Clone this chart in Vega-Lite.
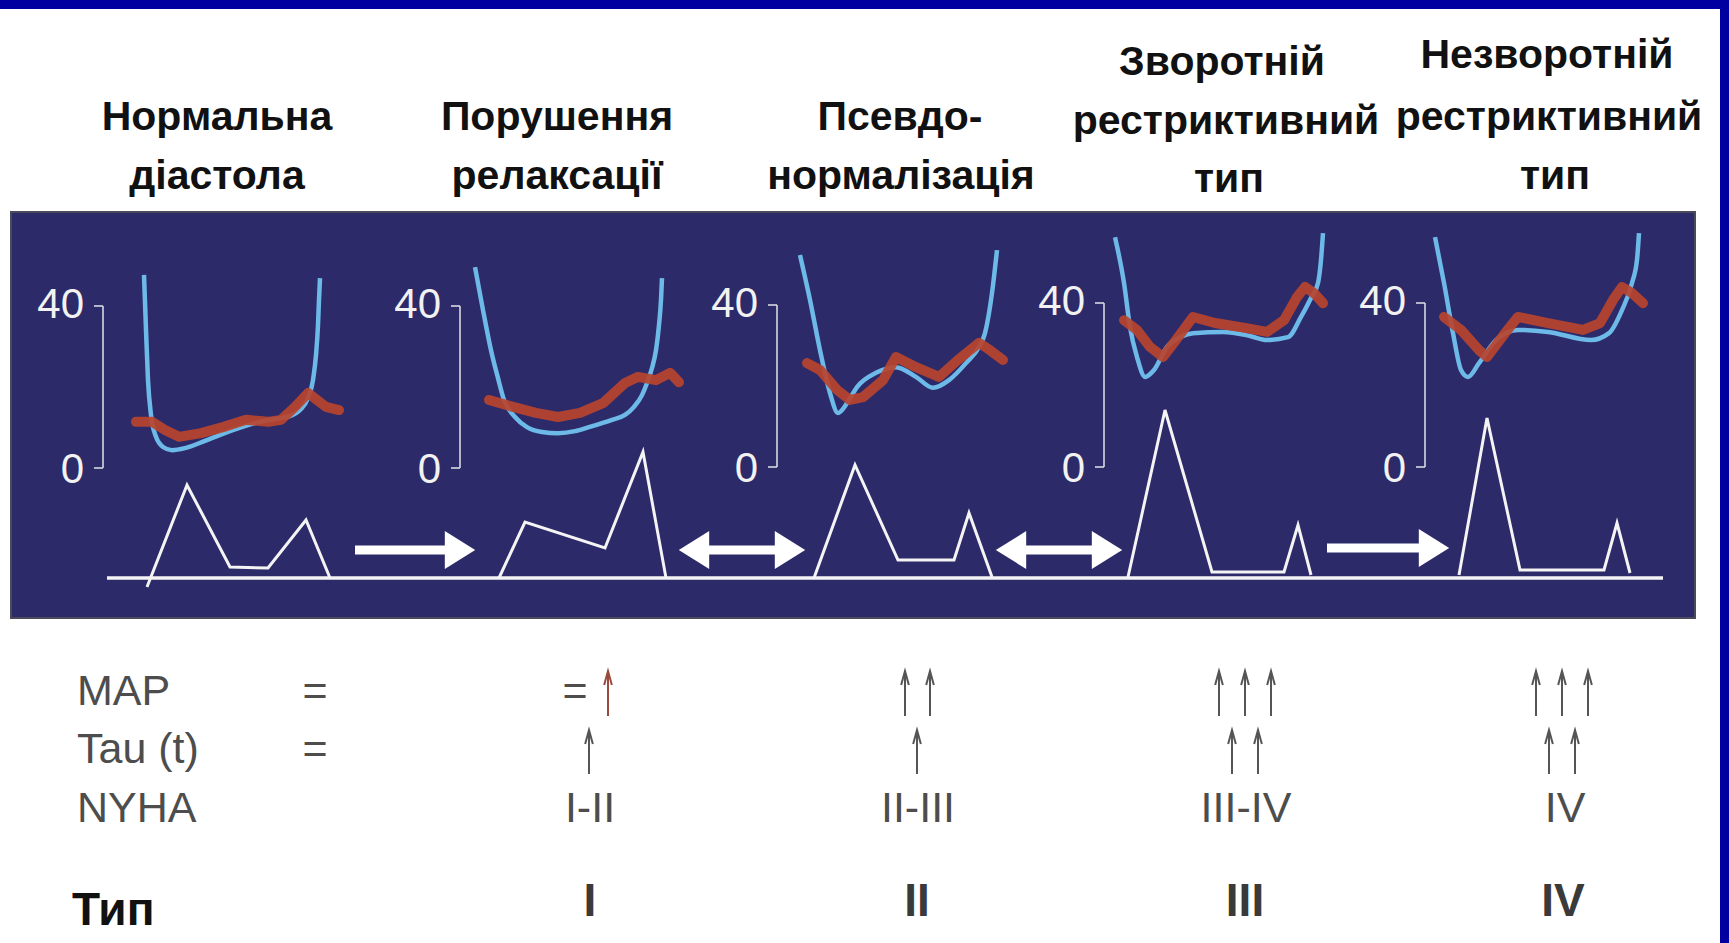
{
  "$schema": "https://vega.github.io/schema/vega-lite/v6.json",
  "width": 1729,
  "height": 943,
  "autosize": {"type": "fit", "contains": "padding"},
  "padding": 0,
  "background": "white",
  "config": {"view": {"stroke": null}},
  "resolve": {"scale": {"y": "independent"}},
  "layer": [
    {
      "data": {"values": [{"x1": 0, "x2": 1729, "y1": 0, "y2": 9}, {"x1": 1720, "x2": 1729, "y1": 0, "y2": 943}]},
      "mark": {"type": "rect", "color": "#0000a0"},
      "encoding": {
        "x": {"field": "x1", "type": "quantitative", "scale": {"domain": [0, 1729], "nice": false, "zero": false}, "axis": null},
        "x2": {"field": "x2"},
        "y": {"field": "y1", "type": "quantitative", "scale": {"domain": [0, 943], "reverse": true, "nice": false, "zero": false}, "axis": null},
        "y2": {"field": "y2"}
      }
    },
    {
      "data": {"values": [{"x1": 11, "x2": 1695, "y1": 212, "y2": 618}]},
      "mark": {"type": "rect", "color": "#2c2a69", "stroke": "#4a4a5a", "strokeWidth": 2},
      "encoding": {
        "x": {"field": "x1", "type": "quantitative", "scale": {"domain": [0, 1729], "nice": false, "zero": false}, "axis": null},
        "x2": {"field": "x2"},
        "y": {"field": "y1", "type": "quantitative", "scale": {"domain": [0, 943], "reverse": true, "nice": false, "zero": false}, "axis": null},
        "y2": {"field": "y2"}
      }
    },
    {
      "data": {"values": [{"x1": 107, "x2": 1663, "y": 578}]},
      "mark": {"type": "rule", "color": "#f4f4f4", "strokeWidth": 3.5},
      "encoding": {
        "x": {"field": "x1", "type": "quantitative", "scale": {"domain": [0, 1729], "nice": false, "zero": false}, "axis": null},
        "x2": {"field": "x2"},
        "y": {"field": "y", "type": "quantitative", "scale": {"domain": [0, 943], "reverse": true, "nice": false, "zero": false}, "axis": null}
      }
    },
    {
      "data": {"values": [
        {"stage": 1, "x": 147, "y": 587}, {"stage": 1, "x": 187, "y": 485}, {"stage": 1, "x": 230, "y": 567}, {"stage": 1, "x": 268, "y": 568}, {"stage": 1, "x": 306, "y": 520}, {"stage": 1, "x": 330, "y": 578},
        {"stage": 2, "x": 499, "y": 578}, {"stage": 2, "x": 525, "y": 522}, {"stage": 2, "x": 605, "y": 548}, {"stage": 2, "x": 643, "y": 452}, {"stage": 2, "x": 666, "y": 578},
        {"stage": 3, "x": 814, "y": 578}, {"stage": 3, "x": 855, "y": 465}, {"stage": 3, "x": 898, "y": 560}, {"stage": 3, "x": 954, "y": 560}, {"stage": 3, "x": 969, "y": 513}, {"stage": 3, "x": 992, "y": 577},
        {"stage": 4, "x": 1128, "y": 577}, {"stage": 4, "x": 1165, "y": 410}, {"stage": 4, "x": 1212, "y": 572}, {"stage": 4, "x": 1284, "y": 572}, {"stage": 4, "x": 1298, "y": 525}, {"stage": 4, "x": 1311, "y": 575},
        {"stage": 5, "x": 1459, "y": 575}, {"stage": 5, "x": 1487, "y": 418}, {"stage": 5, "x": 1520, "y": 570}, {"stage": 5, "x": 1604, "y": 570}, {"stage": 5, "x": 1617, "y": 523}, {"stage": 5, "x": 1630, "y": 573}
      ]},
      "mark": {"type": "line", "color": "#f4f4f4", "strokeWidth": 3, "strokeJoin": "miter"},
      "encoding": {
        "x": {"field": "x", "type": "quantitative", "scale": {"domain": [0, 1729], "nice": false, "zero": false}, "axis": null},
        "y": {"field": "y", "type": "quantitative", "scale": {"domain": [0, 943], "reverse": true, "nice": false, "zero": false}, "axis": null},
        "detail": {"field": "stage", "type": "nominal"}
      }
    },
    {
      "data": {"values": [
        {"x1": 103, "x2": 103, "y1": 306, "y2": 468}, {"x1": 94, "x2": 103, "y1": 306, "y2": 306}, {"x1": 94, "x2": 103, "y1": 468, "y2": 468},
        {"x1": 460, "x2": 460, "y1": 306, "y2": 468}, {"x1": 451, "x2": 460, "y1": 306, "y2": 306}, {"x1": 451, "x2": 460, "y1": 468, "y2": 468},
        {"x1": 777, "x2": 777, "y1": 305, "y2": 467}, {"x1": 768, "x2": 777, "y1": 305, "y2": 305}, {"x1": 768, "x2": 777, "y1": 467, "y2": 467},
        {"x1": 1104, "x2": 1104, "y1": 303, "y2": 467}, {"x1": 1095, "x2": 1104, "y1": 303, "y2": 303}, {"x1": 1095, "x2": 1104, "y1": 467, "y2": 467},
        {"x1": 1425, "x2": 1425, "y1": 303, "y2": 467}, {"x1": 1416, "x2": 1425, "y1": 303, "y2": 303}, {"x1": 1416, "x2": 1425, "y1": 467, "y2": 467}
      ]},
      "mark": {"type": "rule", "color": "#d9d9e3", "strokeWidth": 1.6},
      "encoding": {
        "x": {"field": "x1", "type": "quantitative", "scale": {"domain": [0, 1729], "nice": false, "zero": false}, "axis": null},
        "x2": {"field": "x2"},
        "y": {"field": "y1", "type": "quantitative", "scale": {"domain": [0, 943], "reverse": true, "nice": false, "zero": false}, "axis": null},
        "y2": {"field": "y2"}
      }
    },
    {
      "data": {"values": [
        {"t": "40", "x": 84, "y": 318}, {"t": "0", "x": 84, "y": 483},
        {"t": "40", "x": 441, "y": 318}, {"t": "0", "x": 441, "y": 483},
        {"t": "40", "x": 758, "y": 317}, {"t": "0", "x": 758, "y": 482},
        {"t": "40", "x": 1085, "y": 315}, {"t": "0", "x": 1085, "y": 482},
        {"t": "40", "x": 1406, "y": 315}, {"t": "0", "x": 1406, "y": 482}
      ]},
      "mark": {"type": "text", "align": "right", "baseline": "alphabetic", "font": "Liberation Sans", "fontSize": 42, "color": "#f2f2f2"},
      "encoding": {
        "x": {"field": "x", "type": "quantitative", "scale": {"domain": [0, 1729], "nice": false, "zero": false}, "axis": null},
        "y": {"field": "y", "type": "quantitative", "scale": {"domain": [0, 943], "reverse": true, "nice": false, "zero": false}, "axis": null},
        "text": {"field": "t"}
      }
    },
    {
      "data": {"values": [
        {"stage": 1, "x": 144, "p": 47.7}, {"stage": 1, "x": 146, "p": 34.1}, {"stage": 1, "x": 148, "p": 21.7}, {"stage": 1, "x": 151, "p": 13.1}, {"stage": 1, "x": 156, "p": 7.7}, {"stage": 1, "x": 163, "p": 5.2}, {"stage": 1, "x": 172, "p": 4.4}, {"stage": 1, "x": 185, "p": 4.9}, {"stage": 1, "x": 205, "p": 6.7}, {"stage": 1, "x": 230, "p": 9.1}, {"stage": 1, "x": 255, "p": 11.1}, {"stage": 1, "x": 275, "p": 12.1}, {"stage": 1, "x": 290, "p": 12.8}, {"stage": 1, "x": 300, "p": 14.3}, {"stage": 1, "x": 308, "p": 17.3}, {"stage": 1, "x": 313, "p": 21.7}, {"stage": 1, "x": 316, "p": 27.9}, {"stage": 1, "x": 318, "p": 35.3}, {"stage": 1, "x": 319, "p": 41.5}, {"stage": 1, "x": 320, "p": 46.9},
        {"stage": 2, "x": 475, "p": 49.6}, {"stage": 2, "x": 483, "p": 39}, {"stage": 2, "x": 491, "p": 29.1}, {"stage": 2, "x": 498, "p": 22.2}, {"stage": 2, "x": 504, "p": 16.8}, {"stage": 2, "x": 515, "p": 12.6}, {"stage": 2, "x": 527, "p": 10.1}, {"stage": 2, "x": 542, "p": 8.9}, {"stage": 2, "x": 558, "p": 8.6}, {"stage": 2, "x": 575, "p": 9.1}, {"stage": 2, "x": 589, "p": 10.1}, {"stage": 2, "x": 612, "p": 11.9}, {"stage": 2, "x": 625, "p": 13.1}, {"stage": 2, "x": 634, "p": 15.1}, {"stage": 2, "x": 642, "p": 18}, {"stage": 2, "x": 647, "p": 21}, {"stage": 2, "x": 652, "p": 24.7}, {"stage": 2, "x": 656, "p": 29.1}, {"stage": 2, "x": 659, "p": 35.3}, {"stage": 2, "x": 661, "p": 41.5}, {"stage": 2, "x": 662, "p": 46.9},
        {"stage": 3, "x": 800, "p": 52.6}, {"stage": 3, "x": 810, "p": 41.5}, {"stage": 3, "x": 820, "p": 29.1}, {"stage": 3, "x": 830, "p": 18.5}, {"stage": 3, "x": 838, "p": 13.6}, {"stage": 3, "x": 847, "p": 16}, {"stage": 3, "x": 857, "p": 20}, {"stage": 3, "x": 876, "p": 23.5}, {"stage": 3, "x": 896, "p": 24.9}, {"stage": 3, "x": 916, "p": 22.5}, {"stage": 3, "x": 933, "p": 19.8}, {"stage": 3, "x": 949, "p": 21.7}, {"stage": 3, "x": 966, "p": 25.9}, {"stage": 3, "x": 979, "p": 29.9}, {"stage": 3, "x": 985, "p": 33.3}, {"stage": 3, "x": 992, "p": 43.2}, {"stage": 3, "x": 997, "p": 53.8},
        {"stage": 4, "x": 1115, "p": 57}, {"stage": 4, "x": 1124, "p": 45.7}, {"stage": 4, "x": 1130, "p": 34.8}, {"stage": 4, "x": 1137, "p": 27.4}, {"stage": 4, "x": 1145, "p": 22.5}, {"stage": 4, "x": 1154, "p": 24.2}, {"stage": 4, "x": 1167, "p": 29.9}, {"stage": 4, "x": 1180, "p": 32.3}, {"stage": 4, "x": 1193, "p": 33.3}, {"stage": 4, "x": 1223, "p": 33.6}, {"stage": 4, "x": 1250, "p": 32.6}, {"stage": 4, "x": 1267, "p": 31.6}, {"stage": 4, "x": 1288, "p": 32.3}, {"stage": 4, "x": 1301, "p": 37.3}, {"stage": 4, "x": 1310, "p": 41.5}, {"stage": 4, "x": 1318, "p": 45.7}, {"stage": 4, "x": 1321, "p": 51.4}, {"stage": 4, "x": 1323, "p": 58},
        {"stage": 5, "x": 1435, "p": 57}, {"stage": 5, "x": 1444, "p": 45.7}, {"stage": 5, "x": 1453, "p": 33.3}, {"stage": 5, "x": 1461, "p": 24.2}, {"stage": 5, "x": 1468, "p": 22.5}, {"stage": 5, "x": 1479, "p": 25.9}, {"stage": 5, "x": 1496, "p": 31.6}, {"stage": 5, "x": 1518, "p": 34.1}, {"stage": 5, "x": 1548, "p": 33.6}, {"stage": 5, "x": 1591, "p": 31.6}, {"stage": 5, "x": 1609, "p": 33.3}, {"stage": 5, "x": 1622, "p": 39}, {"stage": 5, "x": 1632, "p": 45.7}, {"stage": 5, "x": 1637, "p": 51.4}, {"stage": 5, "x": 1639, "p": 58}
      ]},
      "mark": {"type": "line", "color": "#6db9e8", "strokeWidth": 4.5, "interpolate": "monotone"},
      "encoding": {
        "x": {"field": "x", "type": "quantitative", "scale": {"domain": [0, 1729], "nice": false, "zero": false}, "axis": null},
        "y": {"field": "p", "type": "quantitative", "scale": {"domain": [-117.28, 115.56], "nice": false, "zero": false}, "axis": null},
        "detail": {"field": "stage", "type": "nominal"}
      }
    },
    {
      "data": {"values": [
        {"stage": 1, "x": 136, "p": 11.4}, {"stage": 1, "x": 152, "p": 11.4}, {"stage": 1, "x": 165, "p": 9.4}, {"stage": 1, "x": 179, "p": 7.7}, {"stage": 1, "x": 201, "p": 8.6}, {"stage": 1, "x": 223, "p": 10.1}, {"stage": 1, "x": 246, "p": 11.9}, {"stage": 1, "x": 268, "p": 11.4}, {"stage": 1, "x": 281, "p": 11.9}, {"stage": 1, "x": 295, "p": 15.1}, {"stage": 1, "x": 308, "p": 18.5}, {"stage": 1, "x": 317, "p": 16.8}, {"stage": 1, "x": 326, "p": 15.1}, {"stage": 1, "x": 339, "p": 14.3},
        {"stage": 2, "x": 489, "p": 16.8}, {"stage": 2, "x": 513, "p": 15.1}, {"stage": 2, "x": 536, "p": 13.6}, {"stage": 2, "x": 558, "p": 12.6}, {"stage": 2, "x": 580, "p": 13.6}, {"stage": 2, "x": 603, "p": 16}, {"stage": 2, "x": 625, "p": 21}, {"stage": 2, "x": 638, "p": 22.5}, {"stage": 2, "x": 656, "p": 21.7}, {"stage": 2, "x": 670, "p": 23.5}, {"stage": 2, "x": 679, "p": 21.2},
        {"stage": 3, "x": 807, "p": 25.9}, {"stage": 3, "x": 820, "p": 24.2}, {"stage": 3, "x": 837, "p": 19.3}, {"stage": 3, "x": 850, "p": 16.8}, {"stage": 3, "x": 863, "p": 17.5}, {"stage": 3, "x": 883, "p": 21.7}, {"stage": 3, "x": 896, "p": 27.4}, {"stage": 3, "x": 916, "p": 24.9}, {"stage": 3, "x": 939, "p": 22.5}, {"stage": 3, "x": 958, "p": 26.7}, {"stage": 3, "x": 979, "p": 30.9}, {"stage": 3, "x": 990, "p": 29.1}, {"stage": 3, "x": 1003, "p": 26.7},
        {"stage": 4, "x": 1124, "p": 36.5}, {"stage": 4, "x": 1137, "p": 34.1}, {"stage": 4, "x": 1150, "p": 29.9}, {"stage": 4, "x": 1163, "p": 27.4}, {"stage": 4, "x": 1176, "p": 31.6}, {"stage": 4, "x": 1193, "p": 37.3}, {"stage": 4, "x": 1215, "p": 35.8}, {"stage": 4, "x": 1245, "p": 34.6}, {"stage": 4, "x": 1267, "p": 33.6}, {"stage": 4, "x": 1284, "p": 36.5}, {"stage": 4, "x": 1297, "p": 42.2}, {"stage": 4, "x": 1305, "p": 44.7}, {"stage": 4, "x": 1314, "p": 43.2}, {"stage": 4, "x": 1323, "p": 40.7},
        {"stage": 5, "x": 1444, "p": 37.3}, {"stage": 5, "x": 1461, "p": 34.1}, {"stage": 5, "x": 1479, "p": 29.1}, {"stage": 5, "x": 1487, "p": 27.4}, {"stage": 5, "x": 1505, "p": 33.3}, {"stage": 5, "x": 1518, "p": 37.3}, {"stage": 5, "x": 1548, "p": 35.8}, {"stage": 5, "x": 1583, "p": 34.1}, {"stage": 5, "x": 1600, "p": 35.8}, {"stage": 5, "x": 1613, "p": 41.5}, {"stage": 5, "x": 1622, "p": 44.7}, {"stage": 5, "x": 1632, "p": 43.2}, {"stage": 5, "x": 1643, "p": 40.7}
      ]},
      "mark": {"type": "line", "color": "#b8442f", "strokeWidth": 10, "strokeCap": "round", "strokeJoin": "round", "opacity": 0.92},
      "encoding": {
        "x": {"field": "x", "type": "quantitative", "scale": {"domain": [0, 1729], "nice": false, "zero": false}, "axis": null},
        "y": {"field": "p", "type": "quantitative", "scale": {"domain": [-117.28, 115.56], "nice": false, "zero": false}, "axis": null},
        "detail": {"field": "stage", "type": "nominal"}
      }
    },
    {
      "data": {"values": [{"x1": 355, "x2": 452, "y": 550}, {"x1": 700, "x2": 785, "y": 550}, {"x1": 1015, "x2": 1100, "y": 550}, {"x1": 1327, "x2": 1425, "y": 548}]},
      "mark": {"type": "rule", "color": "white", "strokeWidth": 9},
      "encoding": {
        "x": {"field": "x1", "type": "quantitative", "scale": {"domain": [0, 1729], "nice": false, "zero": false}, "axis": null},
        "x2": {"field": "x2"},
        "y": {"field": "y", "type": "quantitative", "scale": {"domain": [0, 943], "reverse": true, "nice": false, "zero": false}, "axis": null}
      }
    },
    {
      "data": {"values": [
        {"x": 460, "y": 550, "dir": "right"}, {"x": 694, "y": 550, "dir": "left"}, {"x": 790, "y": 550, "dir": "right"},
        {"x": 1011, "y": 550, "dir": "left"}, {"x": 1107, "y": 550, "dir": "right"}, {"x": 1434, "y": 548, "dir": "right"}
      ]},
      "mark": {"type": "point", "filled": true, "color": "white", "opacity": 1, "size": 1444, "strokeWidth": 0},
      "encoding": {
        "x": {"field": "x", "type": "quantitative", "scale": {"domain": [0, 1729], "nice": false, "zero": false}, "axis": null},
        "y": {"field": "y", "type": "quantitative", "scale": {"domain": [0, 943], "reverse": true, "nice": false, "zero": false}, "axis": null},
        "shape": {"field": "dir", "type": "nominal", "scale": {"domain": ["right", "left"], "range": ["M-0.8,-1L0.8,0L-0.8,1Z", "M0.8,-1L-0.8,0L0.8,1Z"]}, "legend": null}
      }
    },
    {
      "data": {"values": [
        {"t": "Нормальна", "x": 217, "y": 130}, {"t": "діастола", "x": 217, "y": 189},
        {"t": "Порушення", "x": 557, "y": 130}, {"t": "релаксації", "x": 557, "y": 189},
        {"t": "Псевдо-", "x": 900, "y": 130}, {"t": "нормалізація", "x": 901, "y": 189},
        {"t": "Зворотній", "x": 1222, "y": 75}, {"t": "рестриктивний", "x": 1226, "y": 134}, {"t": "тип", "x": 1229, "y": 192},
        {"t": "Незворотній", "x": 1547, "y": 68}, {"t": "рестриктивний", "x": 1549, "y": 130}, {"t": "тип", "x": 1555, "y": 189}
      ]},
      "mark": {"type": "text", "align": "center", "baseline": "alphabetic", "font": "Liberation Sans", "fontSize": 41, "fontWeight": "bold", "color": "#111111"},
      "encoding": {
        "x": {"field": "x", "type": "quantitative", "scale": {"domain": [0, 1729], "nice": false, "zero": false}, "axis": null},
        "y": {"field": "y", "type": "quantitative", "scale": {"domain": [0, 943], "reverse": true, "nice": false, "zero": false}, "axis": null},
        "text": {"field": "t"}
      }
    },
    {
      "data": {"values": [{"t": "MAP", "x": 77, "y": 705}, {"t": "Tau (t)", "x": 77, "y": 763}, {"t": "NYHA", "x": 77, "y": 822}]},
      "mark": {"type": "text", "align": "left", "baseline": "alphabetic", "font": "Liberation Sans", "fontSize": 43, "color": "#4d4d4d"},
      "encoding": {
        "x": {"field": "x", "type": "quantitative", "scale": {"domain": [0, 1729], "nice": false, "zero": false}, "axis": null},
        "y": {"field": "y", "type": "quantitative", "scale": {"domain": [0, 943], "reverse": true, "nice": false, "zero": false}, "axis": null},
        "text": {"field": "t"}
      }
    },
    {
      "data": {"values": [
        {"t": "=", "x": 315, "y": 705}, {"t": "=", "x": 315, "y": 763},
        {"t": "=", "x": 575, "y": 705}, {"t": "I-II", "x": 590, "y": 822},
        {"t": "II-III", "x": 918, "y": 822},
        {"t": "III-IV", "x": 1246, "y": 822},
        {"t": "IV", "x": 1565, "y": 822}
      ]},
      "mark": {"type": "text", "align": "center", "baseline": "alphabetic", "font": "Liberation Sans", "fontSize": 43, "color": "#4d4d4d"},
      "encoding": {
        "x": {"field": "x", "type": "quantitative", "scale": {"domain": [0, 1729], "nice": false, "zero": false}, "axis": null},
        "y": {"field": "y", "type": "quantitative", "scale": {"domain": [0, 943], "reverse": true, "nice": false, "zero": false}, "axis": null},
        "text": {"field": "t"}
      }
    },
    {
      "data": {"values": [
        {"row": "MAP", "kind": "up", "x": 608, "y1": 671, "y2": 716},
        {"row": "Tau", "kind": "same", "x": 589, "y1": 730, "y2": 774},
        {"row": "MAP", "kind": "same", "x": 905, "y1": 671, "y2": 716}, {"row": "MAP", "kind": "same", "x": 930, "y1": 671, "y2": 716},
        {"row": "Tau", "kind": "same", "x": 917, "y1": 730, "y2": 774},
        {"row": "MAP", "kind": "same", "x": 1219, "y1": 671, "y2": 716}, {"row": "MAP", "kind": "same", "x": 1245, "y1": 671, "y2": 716}, {"row": "MAP", "kind": "same", "x": 1271, "y1": 671, "y2": 716},
        {"row": "Tau", "kind": "same", "x": 1232, "y1": 730, "y2": 774}, {"row": "Tau", "kind": "same", "x": 1258, "y1": 730, "y2": 774},
        {"row": "MAP", "kind": "same", "x": 1536, "y1": 671, "y2": 716}, {"row": "MAP", "kind": "same", "x": 1562, "y1": 671, "y2": 716}, {"row": "MAP", "kind": "same", "x": 1588, "y1": 671, "y2": 716},
        {"row": "Tau", "kind": "same", "x": 1549, "y1": 730, "y2": 774}, {"row": "Tau", "kind": "same", "x": 1575, "y1": 730, "y2": 774}
      ]},
      "encoding": {
        "x": {"field": "x", "type": "quantitative", "scale": {"domain": [0, 1729], "nice": false, "zero": false}, "axis": null},
        "y": {"field": "y1", "type": "quantitative", "scale": {"domain": [0, 943], "reverse": true, "nice": false, "zero": false}, "axis": null},
        "color": {"field": "kind", "type": "nominal", "scale": {"domain": ["same", "up"], "range": ["#555555", "#9a4a3c"]}, "legend": null}
      },
      "layer": [
        {"mark": {"type": "rule", "strokeWidth": 2}, "encoding": {"y2": {"field": "y2"}}},
        {"mark": {"type": "point", "filled": false, "strokeWidth": 2, "size": 196, "yOffset": 7, "opacity": 1, "shape": "M-0.55,1L0,-1L0.55,1"}}
      ]
    },
    {
      "data": {"values": [{"t": "I", "x": 590, "y": 916}, {"t": "II", "x": 917, "y": 916}, {"t": "III", "x": 1245, "y": 916}, {"t": "IV", "x": 1563, "y": 916}]},
      "mark": {"type": "text", "align": "center", "baseline": "alphabetic", "font": "Liberation Sans", "fontSize": 46, "fontWeight": "bold", "color": "#3a3a3a"},
      "encoding": {
        "x": {"field": "x", "type": "quantitative", "scale": {"domain": [0, 1729], "nice": false, "zero": false}, "axis": null},
        "y": {"field": "y", "type": "quantitative", "scale": {"domain": [0, 943], "reverse": true, "nice": false, "zero": false}, "axis": null},
        "text": {"field": "t"}
      }
    },
    {
      "data": {"values": [{"t": "Тип", "x": 72, "y": 925}]},
      "mark": {"type": "text", "align": "left", "baseline": "alphabetic", "font": "Liberation Sans", "fontSize": 46, "fontWeight": "bold", "color": "#111111"},
      "encoding": {
        "x": {"field": "x", "type": "quantitative", "scale": {"domain": [0, 1729], "nice": false, "zero": false}, "axis": null},
        "y": {"field": "y", "type": "quantitative", "scale": {"domain": [0, 943], "reverse": true, "nice": false, "zero": false}, "axis": null},
        "text": {"field": "t"}
      }
    }
  ]
}
